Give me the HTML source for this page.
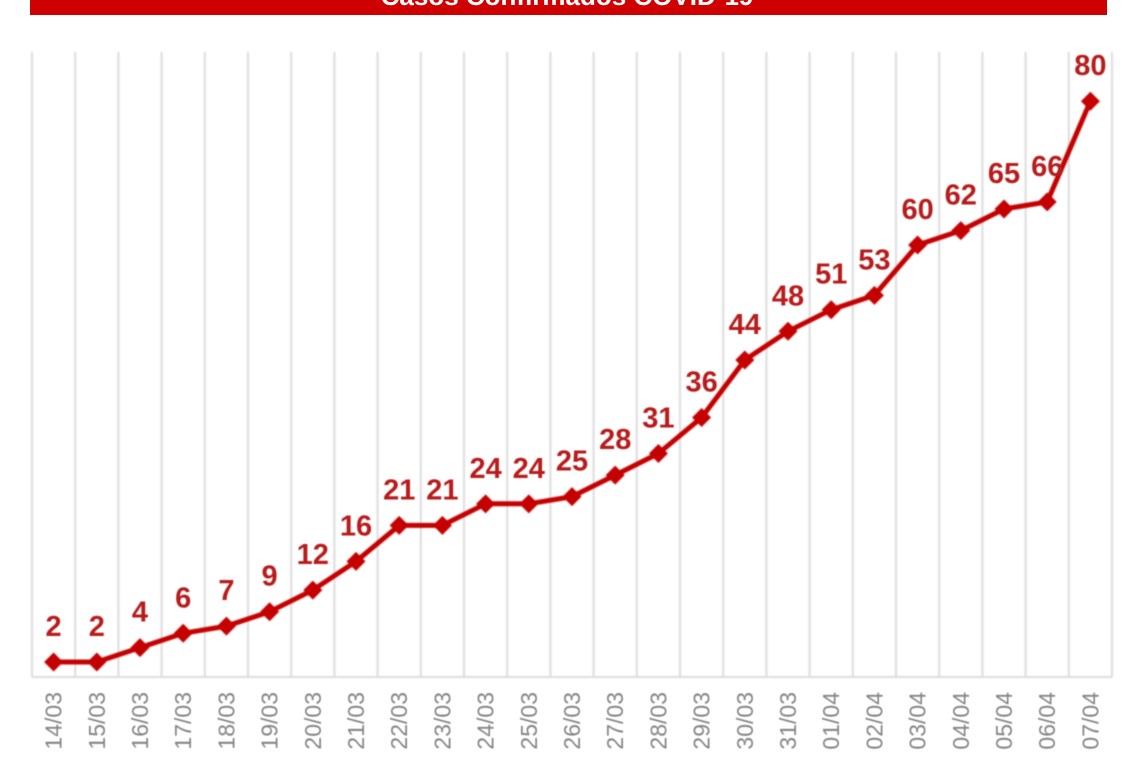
<!DOCTYPE html>
<html>
<head>
<meta charset="utf-8">
<style>
html,body{margin:0;padding:0;background:#fff;}
body{width:1140px;height:760px;overflow:hidden;}
svg{display:block;}
</style>
</head>
<body>
<svg width="1140" height="760" viewBox="0 0 1140 760" xmlns="http://www.w3.org/2000/svg">
<defs>
<filter id="soft" x="-5%" y="-5%" width="110%" height="110%"><feGaussianBlur stdDeviation="0.8"/></filter>
<filter id="softt" x="-5%" y="-5%" width="110%" height="110%"><feGaussianBlur stdDeviation="0.5"/></filter>
</defs>
<rect x="0" y="0" width="1140" height="760" fill="#ffffff"/>
<rect x="30" y="0" width="1077" height="15" fill="#cf0000"/>
<text x="567" y="5" text-anchor="middle" font-family="Liberation Sans, sans-serif" font-weight="bold" font-size="26" fill="#ffffff">Casos Confirmados COVID-19</text>
<g id="grid" stroke="#dcdcdc" stroke-width="2" filter="url(#soft)"></g>
<g id="series" filter="url(#soft)"></g>
<g id="labels" font-family="Liberation Sans, sans-serif" font-weight="bold" font-size="29" fill="#b81c1c" text-anchor="middle" filter="url(#softt)"></g>
<g id="xlabels" font-family="Liberation Sans, sans-serif" font-size="23" fill="#858585" text-anchor="end" filter="url(#softt)"></g>
</svg>
<script>
(function(){
var NS="http://www.w3.org/2000/svg";
var vals=[2,2,4,6,7,9,12,16,21,21,24,24,25,28,31,36,44,48,51,53,60,62,65,66,80];
var cats=["14/03","15/03","16/03","17/03","18/03","19/03","20/03","21/03","22/03","23/03","24/03","25/03","26/03","27/03","28/03","29/03","30/03","31/03","01/04","02/04","03/04","04/04","05/04","06/04","07/04"];
var x0=32,step=43.2,yb=676.4,k=7.19;
var grid=document.getElementById("grid");
for(var i=0;i<=25;i++){
 var l=document.createElementNS(NS,"line");
 var x=x0+step*i;
 l.setAttribute("x1",x);l.setAttribute("x2",x);
 l.setAttribute("y1",52);l.setAttribute("y2",677);
 grid.appendChild(l);
}
var ax=document.createElementNS(NS,"line");
ax.setAttribute("x1",32);ax.setAttribute("x2",1112);ax.setAttribute("y1",677);ax.setAttribute("y2",677);
grid.appendChild(ax);
var pts=[];
var ser=document.getElementById("series");
var lab=document.getElementById("labels");
var xl=document.getElementById("xlabels");
for(var i=0;i<vals.length;i++){
 var cx=x0+step*(i+0.5);
 var cy=yb-vals[i]*k;
 pts.push(cx.toFixed(1)+","+cy.toFixed(1));
 var t=document.createElementNS(NS,"text");
 t.setAttribute("x",cx);t.setAttribute("y",cy-26);
 t.textContent=vals[i];
 lab.appendChild(t);
 var tx=document.createElementNS(NS,"text");
 var bx=cx+8,by=692;
 tx.setAttribute("x",bx);tx.setAttribute("y",by);
 tx.setAttribute("transform","rotate(-90 "+bx+" "+by+")");
 tx.textContent=cats[i];
 xl.appendChild(tx);
}
var pl=document.createElementNS(NS,"polyline");
pl.setAttribute("points",pts.join(" "));
pl.setAttribute("fill","none");pl.setAttribute("stroke","#c40000");
pl.setAttribute("stroke-width","5");pl.setAttribute("stroke-linejoin","round");
ser.appendChild(pl);
for(var i=0;i<vals.length;i++){
 var cx=x0+step*(i+0.5),cy=yb-vals[i]*k,s=9.5;
 var d=document.createElementNS(NS,"polygon");
 d.setAttribute("points",cx+","+(cy-s)+" "+(cx+s)+","+cy+" "+cx+","+(cy+s)+" "+(cx-s)+","+cy);
 d.setAttribute("fill","#c40000");
 ser.appendChild(d);
}
})();
</script>
</body>
</html>
